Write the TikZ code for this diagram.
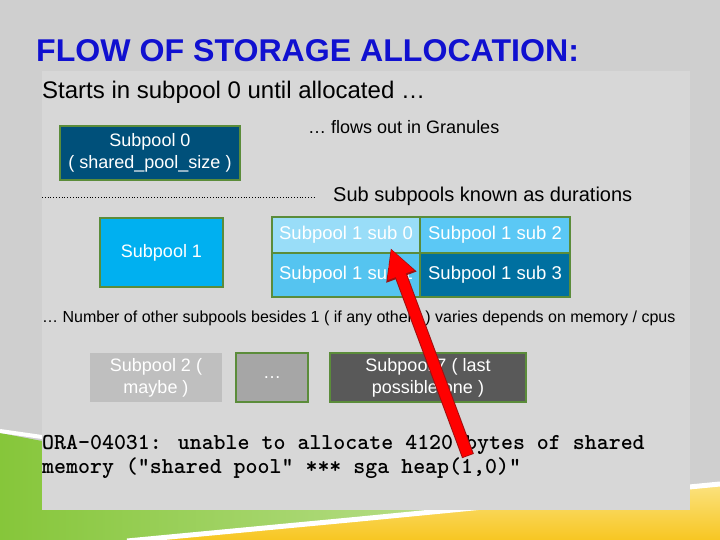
\documentclass[tikz,border=0pt]{standalone}
\usepackage{fontspec}
\setmainfont{Liberation Sans}
\usetikzlibrary{arrows.meta}
\definecolor{bgc}{HTML}{CFCFCF}
\definecolor{panelc}{HTML}{D7D7D7}
\definecolor{titleblue}{HTML}{1010D0}
\definecolor{bordergreen}{HTML}{5B8C3A}
\definecolor{spzero}{HTML}{00507A}
\definecolor{spone}{HTML}{00B0F0}
\definecolor{subzero}{HTML}{99DDF8}
\definecolor{subtwo}{HTML}{5BC8F5}
\definecolor{subone}{HTML}{55C4F0}
\definecolor{subthree}{HTML}{0070A0}
\definecolor{sptwo}{HTML}{BFBFBF}
\definecolor{spdots}{HTML}{A6A6A6}
\definecolor{spseven}{HTML}{595959}
\definecolor{greendark}{HTML}{86C63A}
\definecolor{greenlight}{HTML}{D2EBB4}
\definecolor{yellowc}{HTML}{F7C51E}
\definecolor{yellowlight}{HTML}{FBE27E}
\definecolor{arrowred}{HTML}{FF0000}
\definecolor{arrowdark}{HTML}{A01010}
\tikzset{
  poolbox/.style={draw=bordergreen, line width=2pt, text=white, align=center, inner sep=0pt,
    font=\fontsize{18}{22}\selectfont},
  gridbox/.style={poolbox, font=\fontsize{18.5}{22}\selectfont},
  plaintext/.style={inner sep=0pt, anchor=base west, text=black},
  codetext/.style={plaintext, font=\ttfamily\bfseries\fontsize{22.8}{24}\selectfont},
}
\begin{document}
\begin{tikzpicture}[x=1pt,y=-1pt]
\useasboundingbox (0,0) rectangle (720,540);
\fill[bgc] (0,0) rectangle (720,540);
% bottom decoration
\shade[left color=greendark, right color=greenlight]
  (0,433) -- (42,441) -- (690,470) -- (690,486) -- (360,518) -- (127,540) -- (0,540) -- cycle;
\shade[top color=yellowlight, bottom color=yellowc]
  (127,542) -- (360,520) -- (720,485) -- (720,540) -- cycle;
\draw[white, line width=4pt] (0,431) -- (42,437);
\draw[white, line width=5pt] (127,541) -- (360,519) -- (720,484);
% panel
\fill[panelc] (42,71) rectangle (690,510);
% title and texts
\node[plaintext, text=titleblue, font=\bfseries\fontsize{30}{34}\selectfont] (title) at (36,62)
  {\scalebox{1.07}[1.05]{FLOW OF STORAGE ALLOCATION:}};
\node[plaintext, font=\fontsize{24}{28}\selectfont] (starts) at (42,99)
  {Starts in subpool 0 until allocated …};
\node[plaintext, font=\fontsize{18}{20}\selectfont] (flows) at (308,134)
  {… flows out in Granules};
\draw[dotted, line width=0.8pt] (42,197) -- (316,197);
\node[plaintext, font=\fontsize{20}{24}\selectfont] (durations) at (333,202)
  {Sub subpools known as durations};
\node[plaintext, font=\fontsize{16}{20}\selectfont] (number) at (42,322)
  {… Number of other subpools besides 1 ( if any others ) varies depends on memory / cpus};
% boxes
\node[poolbox, fill=spzero, minimum width=180, minimum height=54] (sp0) at (150,153)
  {Subpool 0\\( shared\_pool\_size )};
\node[poolbox, fill=spone, minimum width=123, minimum height=69] (sp1) at (161.5,252.5)
  {Subpool 1};
\node[gridbox, fill=subzero, minimum width=148, minimum height=36] (sub0) at (346,235)
  {Subpool 1 sub 0};
\node[gridbox, fill=subtwo, minimum width=150, minimum height=36] (sub2) at (495,235)
  {Subpool 1 sub 2};
\node[gridbox, fill=subone, minimum width=148, minimum height=44] (sub1) at (346,275)
  {Subpool 1 sub 1};
\node[gridbox, fill=subthree, minimum width=150, minimum height=44] (sub3) at (495,275)
  {Subpool 1 sub 3};
\node[poolbox, draw=none, fill=sptwo, minimum width=132, minimum height=49] (sp2) at (156,377.5)
  {Subpool 2 (\\maybe )};
\node[poolbox, fill=spdots, minimum width=72, minimum height=49] (spd) at (272,377.5)
  {…};
\node[poolbox, fill=spseven, minimum width=196, minimum height=49] (sp7) at (428,377.5)
  {Subpool 7 ( last\\possible one )};
% error message
\node[codetext] (ora1) at (42,449)
  {ORA-04031: unable to allocate 4120 bytes of shared};
\node[codetext] (ora2) at (42,473)
  {memory ("shared pool“ *** sga heap(1,0)"};
% arrow
\coordinate (tail) at (468,456);
\coordinate (tip) at (391,249);
\draw[arrowdark, line width=12.5pt, -{Triangle[width=30pt,length=31pt]}, shorten >=-1pt] (tail) -- (tip);
\draw[arrowred, line width=10.5pt, -{Triangle[width=26pt,length=28pt]}, shorten <=0.8pt] (tail) -- (tip);
\end{tikzpicture}
\end{document}
